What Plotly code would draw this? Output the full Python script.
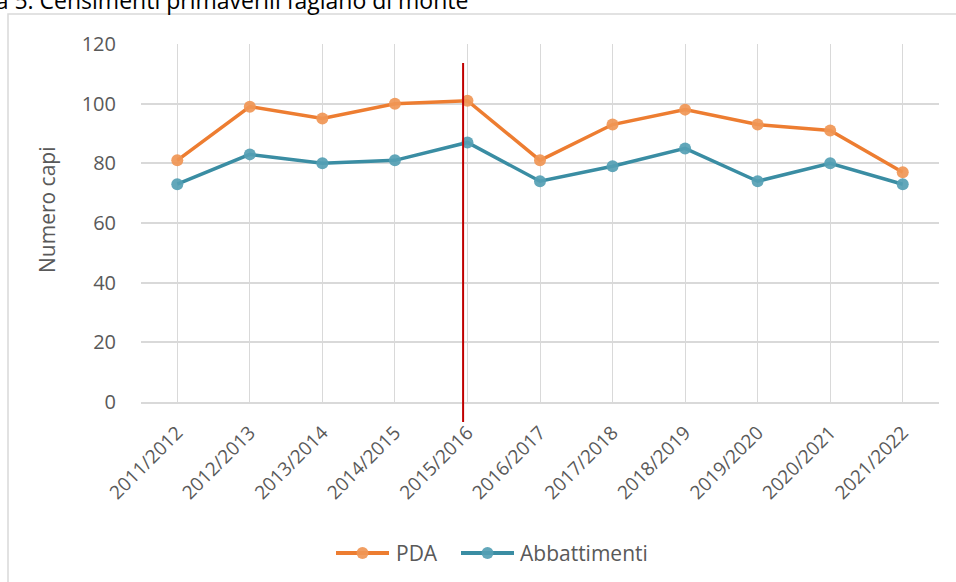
import plotly.graph_objects as go

categories = ["2011/2012", "2012/2013", "2013/2014", "2014/2015", "2015/2016",
              "2016/2017", "2017/2018", "2018/2019", "2019/2020", "2020/2021", "2021/2022"]
pda = [81, 99, 95, 100, 101, 81, 93, 98, 93, 91, 77]
abbattimenti = [73, 83, 80, 81, 87, 74, 79, 85, 74, 80, 73]
y_ticks = [0, 20, 40, 60, 80, 100, 120]
series_names = ["PDA", "Abbattimenti"]

title_text = "Figura 5. Censimenti primaverili fagiano di monte"
y_title = "Numero capi"

ORANGE = "#ED7D31"
TEAL = "#3A8DA3"
ORANGE_M = "rgba(240,150,85,0.92)"
TEAL_M = "rgba(85,160,180,0.92)"
GRID = "#D9D9D9"
TXT = "#595959"
FONT = "Open Sans"

W, H = 956, 582
L, R, T, B = 141, 17, 44, 180
pw, ph = W - L - R, H - T - B


def px_x(p):
    return (p - L) / pw


def px_y(p):
    return (H - B - p) / ph


fig = go.Figure()
for name, vals, lc, mc in [(series_names[0], pda, ORANGE, ORANGE_M),
                           (series_names[1], abbattimenti, TEAL, TEAL_M)]:
    fig.add_trace(go.Scatter(
        x=categories, y=vals, name=name, mode="lines+markers",
        line=dict(color=lc, width=3.5),
        marker=dict(size=12, color=mc, line=dict(width=0)),
        showlegend=False,
    ))

# outer chart border (partially visible)
fig.add_shape(type="rect", xref="paper", yref="paper",
              x0=px_x(8), x1=px_x(1100), y0=px_y(14), y1=px_y(700),
              line=dict(color=GRID, width=1.5), fillcolor="rgba(0,0,0,0)", layer="below")

# red vertical marker line (extends below the axis, as in the original)
fig.add_shape(type="line", xref="x", yref="paper",
              x0=3.94, x1=3.94, y0=px_y(422), y1=px_y(63),
              line=dict(color="#C00000", width=2))

# custom legend (long line symbols as in the original)
leg_y = px_y(553)
for name, lc, mc, x0, x1, tx in [(series_names[0], ORANGE, ORANGE_M, 336, 389, 394),
                                 (series_names[1], TEAL, TEAL_M, 461, 514, 518)]:
    fig.add_shape(type="line", xref="paper", yref="paper",
                  x0=px_x(x0), x1=px_x(x1), y0=leg_y, y1=leg_y,
                  line=dict(color=lc, width=4))
    fig.add_shape(type="circle", xref="paper", yref="paper",
                  xsizemode="pixel", ysizemode="pixel",
                  xanchor=px_x((x0 + x1) / 2), yanchor=leg_y,
                  x0=-6, x1=6, y0=-6, y1=6,
                  fillcolor=mc, line=dict(width=0))
    fig.add_annotation(text=name, xref="paper", yref="paper",
                       x=px_x(tx), y=leg_y, xanchor="left", yanchor="middle",
                       showarrow=False, font=dict(family=FONT, size=21, color=TXT))

fig.add_annotation(text=title_text, xref="paper", yref="paper",
                   x=px_x(470), y=px_y(-0.5), xanchor="right", yanchor="middle",
                   showarrow=False, font=dict(family=FONT, size=23, color="#000000"))

fig.add_annotation(text=y_title, xref="paper", yref="paper",
                   x=px_x(47), y=px_y(210), xanchor="center", yanchor="middle",
                   textangle=-90, showarrow=False,
                   font=dict(family=FONT, size=21, color=TXT))

fig.update_layout(
    width=W, height=H,
    margin=dict(l=L, r=R, t=T, b=B),
    paper_bgcolor="white", plot_bgcolor="white",
    font=dict(family=FONT, color=TXT, size=17),
    showlegend=False,
    xaxis=dict(type="category", range=[-0.5, 10.5], tickangle=-45,
               showgrid=True, gridcolor=GRID, gridwidth=1,
               showline=True, linecolor=GRID, linewidth=2,
               ticks="outside", ticklen=10, tickcolor="rgba(0,0,0,0)",
               tickfont=dict(family=FONT, size=19, color=TXT)),
    yaxis=dict(range=[0, 120], tickvals=y_ticks, showgrid=True, gridcolor=GRID,
               gridwidth=1.5, zeroline=False, showline=False,
               ticks="outside", ticklen=20, tickcolor="rgba(0,0,0,0)",
               tickfont=dict(family=FONT, size=20, color=TXT)),
)

fig.write_html("out.html", config={"displayModeBar": False},
               post_script="document.body.style.margin='0';")
